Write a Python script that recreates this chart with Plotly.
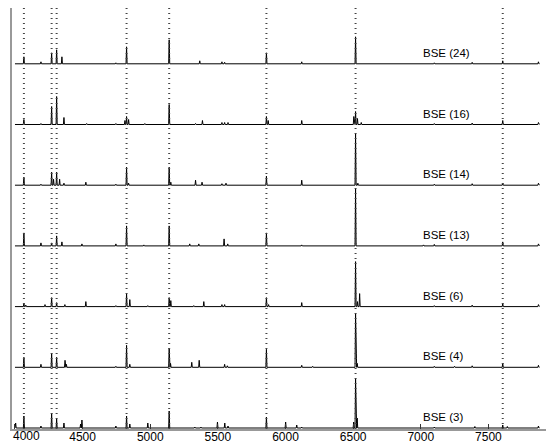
"""Stacked BSE emission spectra with marked line positions."""

import plotly.graph_objects as go

# Style constants
LINE_COLOR = "black"
MARKER_LINE_COLOR = "#444444"
AXIS_COLOR = "#999999"
FONT = "Liberation Sans, Arial, sans-serif"

X_START = 4000
X_END = 7877
PEAK_HALF_WIDTH = 4
ROW_STEP = 60.7

# Marked line wavelengths (vertical dotted lines)
MARKED_LINES = [4066, 4271, 4308, 4825, 5140, 5859, 6518, 7606]

X_TICKS = [4000, 4500, 5000, 5500, 6000, 6500, 7000, 7500]

# Spectra from bottom to top
LABELS = ["BSE (3)", "BSE (4)", "BSE (6)", "BSE (13)", "BSE (14)", "BSE (16)", "BSE (24)"]

BSE3_W = [4005, 4066, 4192, 4271, 4308, 4362, 4485, 4495, 4746, 4825, 4849, 4982, 5140,
          5330, 5375, 5497, 5551, 5575, 5859, 6001, 6083, 6120, 6504, 6518, 6530, 7100,
          7400, 7606, 7640, 7870]
BSE3_H = [5, 12, 2, 15, 9, 5, 4, 8, 2, 12, 4, 5, 17,
          1, 1, 6, 5, 2, 11, 6, 3, 1, 6, 50, 10, 1,
          1.5, 3, 1.5, 2]

BSE4_W = [4066, 4192, 4271, 4308, 4370, 4380, 4746, 4825, 4849, 5140, 5150, 5307, 5362,
          5550, 5570, 5859, 6120, 6201, 6518, 6530, 7100, 7250, 7380, 7606, 7870]
BSE4_H = [10, 3, 14, 10, 7, 3, 1, 22, 3, 19, 4, 5, 7,
          3, 1.5, 18, 2, 1, 54, 4, 1, 1, 1.5, 4, 2]

BSE6_W = [4066, 4080, 4222, 4271, 4308, 4369, 4524, 4746, 4825, 4849, 4982, 5140, 5152,
          5322, 5396, 5530, 5550, 5859, 5875, 6120, 6518, 6532, 6548, 7100, 7380, 7606, 7870]
BSE6_H = [3, 1.5, 2, 9, 4, 2, 5, 1, 13, 7, 1, 9, 6,
          1, 5, 2, 2, 9, 2, 4, 45, 5, 13, 1, 1.5, 3, 2]

BSE13_W = [4066, 4192, 4271, 4308, 4347, 4495, 4746, 4825, 4953, 5140, 5292, 5359, 5546,
           5573, 5859, 6120, 6518, 7020, 7100, 7606, 7870]
BSE13_H = [13, 3, 3, 10, 4, 2, 2, 20, 1, 20, 2, 2, 7,
           2, 13, 1, 57, 1, 1.5, 4, 2]

BSE14_W = [4066, 4192, 4271, 4285, 4308, 4330, 4362, 4524, 4746, 4825, 4840, 5140, 5152,
           5335, 5383, 5530, 5560, 5859, 6120, 6518, 6535, 7100, 7380, 7606, 7870]
BSE14_H = [8, 1, 13, 6, 13, 6, 2, 3, 1, 18, 2, 18, 3,
           5, 3, 1.5, 2, 9, 5, 52, 2, 1, 1.5, 2, 2]

BSE16_W = [4066, 4192, 4271, 4308, 4362, 4530, 4746, 4813, 4825, 4840, 4960, 5140, 5335,
           5386, 5530, 5550, 5575, 5859, 5872, 6120, 6505, 6518, 6532, 6560, 7100, 7380,
           7606, 7870]
BSE16_H = [5, 1, 18, 28, 7, 1, 1, 4, 8, 5, 1, 20, 1,
           4, 2, 2, 2, 8, 4, 4, 8, 13, 6, 2, 1, 1.5,
           4, 2]

BSE24_W = [4066, 4192, 4271, 4308, 4347, 4746, 4825, 5140, 5366, 5530, 5550, 5859, 6120,
           6518, 7100, 7380, 7606, 7870]
BSE24_H = [7, 2, 11, 14, 7, 1, 17, 24, 3, 2, 1.5, 11, 2,
           27, 1, 1.5, 3, 2]

SPECTRA = [
    (BSE3_W, BSE3_H),
    (BSE4_W, BSE4_H),
    (BSE6_W, BSE6_H),
    (BSE13_W, BSE13_H),
    (BSE14_W, BSE14_H),
    (BSE16_W, BSE16_H),
    (BSE24_W, BSE24_H),
]


def build_spectrum(waves, heights, offset):
    """Flat continuum at the offset with a narrow spike for each emission line."""
    xs, ys = [X_START], [offset]
    for w, h in sorted(zip(waves, heights)):
        xs += [w - PEAK_HALF_WIDTH, w, w + PEAK_HALF_WIDTH]
        ys += [offset, offset + h, offset]
    xs.append(X_END)
    ys.append(offset)
    return xs, ys


fig = go.Figure()

for i, (label, (waves, heights)) in enumerate(zip(LABELS, SPECTRA)):
    offset = i * ROW_STEP
    xs, ys = build_spectrum(waves, heights, offset)
    fig.add_trace(go.Scatter(
        x=xs, y=ys, mode="lines",
        line=dict(color=LINE_COLOR, width=1),
        showlegend=False, hoverinfo="skip",
    ))
    fig.add_annotation(
        x=7000, y=offset + 11, text=label, showarrow=False,
        xanchor="left", yanchor="middle",
        font=dict(family=FONT, size=11.5, color="black"),
    )

for w in MARKED_LINES:
    fig.add_shape(
        type="line", x0=w, x1=w, y0=0, y1=1, xref="x", yref="paper",
        line=dict(color=MARKER_LINE_COLOR, width=2, dash="1px,4px"),
        layer="above",
    )

# first tick label would fall off the left edge, so pin it to the edge instead
tick_text = [""] + [str(t) for t in X_TICKS[1:]]
fig.add_annotation(
    x=0, y=0, xref="paper", yref="paper", text=str(X_TICKS[0]),
    showarrow=False, xanchor="left", yanchor="top", yshift=1, borderpad=0,
    font=dict(family=FONT, size=12, color="black"),
)

# The page body adds an 8px offset, so the figure is sized to the visible area
fig.update_layout(
    width=546,
    height=435,
    margin=dict(l=4, r=0, t=0, b=14),
    plot_bgcolor="white",
    paper_bgcolor="white",
    font=dict(family=FONT, size=12, color="black"),
    showlegend=False,
)
fig.update_xaxes(
    range=[3978, 7985],
    tickvals=X_TICKS,
    ticktext=tick_text,
    ticks="inside", ticklen=5, tickcolor="#333333",
    ticklabelstandoff=-4,
    ticklabeloverflow="allow",
    showgrid=False, zeroline=False, automargin=False,
    showline=True, linecolor=AXIS_COLOR, linewidth=2,
    tickfont=dict(family=FONT, size=12),
)
fig.update_yaxes(
    range=[-1, 420],
    showticklabels=False, ticks="",
    showgrid=False, zeroline=False, automargin=False,
    showline=True, linecolor=AXIS_COLOR, linewidth=2,
)

fig.write_html("out.html")
